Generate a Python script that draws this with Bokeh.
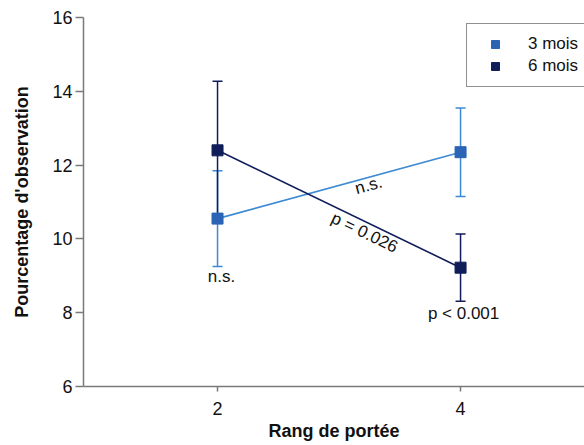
import numpy as np
from bokeh.plotting import figure
from bokeh.models import (ColumnDataSource, Whisker, FixedTicker, Legend, LegendItem,
                          Range1d)
from bokeh.core.properties import value
from bokeh.embed import file_html
from bokeh.resources import INLINE

# Data: percentage of observations by litter rank, for two ages
rang = [2, 4]
mois3_mean = [10.55, 12.35]
mois3_err = [1.30, 1.20]
mois6_mean = [12.40, 9.22]
mois6_err = [1.87, 0.91]

y_ticks = [6, 8, 10, 12, 14, 16]
x_ticks = [2, 4]

C3 = "#2b63b5"
C3_LINE = "#3d8ad4"
C6 = "#0f1d5a"
FONT = "Liberation Sans"

p = figure(width=584, height=445, output_backend="svg", toolbar_location=None,
           x_range=Range1d(0.897, 5.02), y_range=Range1d(6, 16),
           min_border_left=83, min_border_right=0, min_border_top=17, min_border_bottom=59)
p.outline_line_color = None
p.xgrid.visible = False
p.ygrid.visible = False
p.background_fill_color = "white"

def src(means, errs):
    m = np.array(means); e = np.array(errs)
    return ColumnDataSource(dict(x=rang, y=m, lo=m - e, hi=m + e))

s3 = src(mois3_mean, mois3_err)
s6 = src(mois6_mean, mois6_err)

for s, col in ((s3, C3_LINE), (s6, C6)):
    w = Whisker(source=s, base="x", upper="hi", lower="lo", line_color=col, line_width=1.5)
    for head in (w.upper_head, w.lower_head):
        head.size = 10
        head.line_color = col
        head.line_width = 1.5
    p.add_layout(w)

l3 = p.line("x", "y", source=s3, line_color=C3_LINE, line_width=1.6)
l6 = p.line("x", "y", source=s6, line_color=C6, line_width=1.6)
m3 = p.scatter("x", "y", source=s3, marker="square", size=11, fill_color=C3, line_color=C3)
m6 = p.scatter("x", "y", source=s6, marker="square", size=11, fill_color=C6, line_color=C6)

# Axes
for ax in (p.xaxis, p.yaxis):
    ax.axis_line_color = "#7a7a7a"
    ax.axis_line_width = 1.5
    ax.major_tick_line_color = "#7a7a7a"
    ax.major_tick_line_width = 1.5
    ax.minor_tick_line_color = None
    ax.major_tick_in = 0
    ax.major_label_text_font = FONT
    ax.major_label_text_font_size = "18px"
    ax.major_label_text_color = "#111111"
    ax.axis_label_text_font = FONT
    ax.axis_label_text_font_size = "18px"
    ax.axis_label_text_font_style = "bold"
    ax.axis_label_text_color = "#111111"

p.yaxis.ticker = FixedTicker(ticks=y_ticks)
p.yaxis.major_tick_out = 8
p.yaxis.major_label_standoff = 3
p.yaxis.axis_label = "Pourcentage d'observation"
p.yaxis.axis_label_standoff = 17

p.xaxis.ticker = FixedTicker(ticks=x_ticks)
p.xaxis.major_tick_out = 5
p.xaxis.major_label_standoff = 10
p.xaxis.axis_label = "Rang de portée"
p.xaxis.axis_label_standoff = 3

# Significance annotations
ann = dict(text_font=value(FONT), text_font_size="17px", text_color="#111111",
           text_align="center", text_baseline="middle")
p.text(x=[2.033], y=[8.98], text=["n.s."], **ann)
p.text(x=[4.025], y=[7.98], text=["p < 0.001"], **ann)
p.text(x=[3.243], y=[11.45], text=["n.s."], angle=0.265, **ann)
p.text(x=[3.21], y=[10.17], text=["p = 0.026"], angle=-0.449, **ann)

legend = Legend(items=[LegendItem(label="3 mois", renderers=[m3]),
                       LegendItem(label="6 mois", renderers=[m6])],
                location=(383, 299), orientation="vertical",
                padding=10, spacing=2, margin=0,
                glyph_width=36, glyph_height=20, label_standoff=15, label_width=100,
                label_text_font=FONT, label_text_font_size="17px", label_text_color="#111111",
                border_line_color="#222222", border_line_width=1.2,
                background_fill_color="white", background_fill_alpha=1)
p.add_layout(legend)

open("out.html", "w").write(file_html(p, INLINE))
